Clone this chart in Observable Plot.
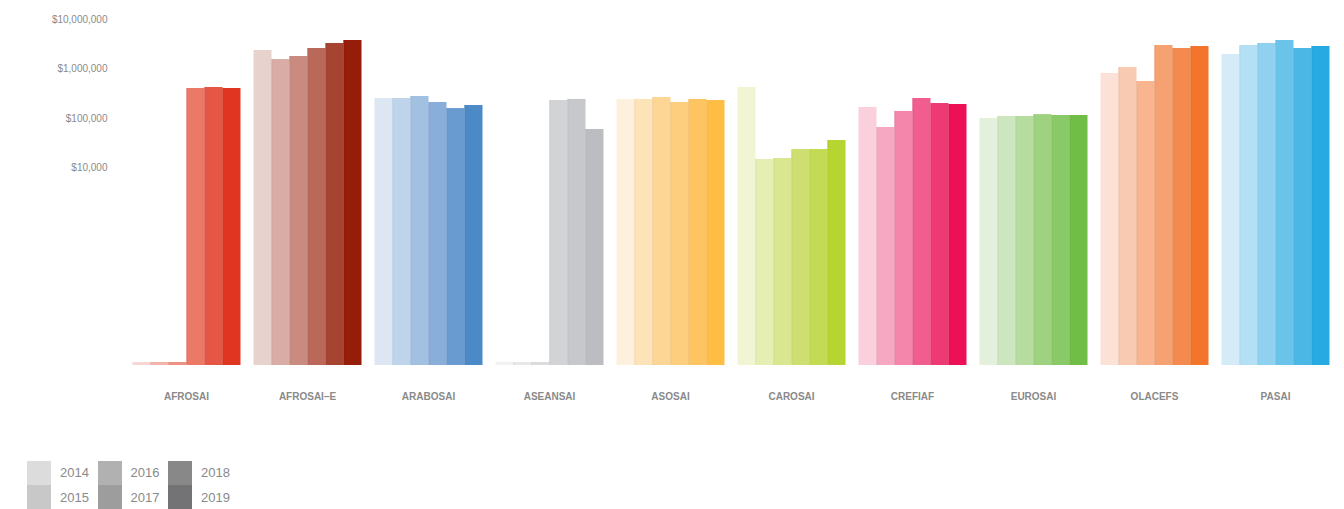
<!DOCTYPE html>
<html>
<head>
<meta charset="utf-8">
<script src="https://cdn.jsdelivr.net/npm/d3@7"></script>
<script src="https://cdn.jsdelivr.net/npm/@observablehq/plot@0.6"></script>
<style>
  html, body { margin: 0; padding: 0; background: #fff; }
  body { width: 1344px; height: 509px; position: relative; overflow: hidden; font-family: "Liberation Sans", Arial, sans-serif; }
  #chart { position: absolute; left: 0; top: 0; }
  #chart svg g[aria-label^="fx-axis"] text { font-weight: bold; }
  .legend { position: absolute; left: 27px; top: 460px; display: grid; grid-template-columns: repeat(3, 70.5px); grid-auto-flow: column; grid-template-rows: 25px 24px; }
  .legend .item { display: flex; align-items: center; font-size: 13px; color: #8a8a8a; }
  .legend .sw { width: 24px; height: 24px; margin-right: 9px; }
</style>
</head>
<body>
<div id="chart"></div>
<div class="legend" id="legend"></div>
<script>
// ---- data ----
const regions = ["AFROSAI", "AFROSAI\u2013E", "ARABOSAI", "ASEANSAI", "ASOSAI", "CAROSAI", "CREFIAF", "EUROSAI", "OLACEFS", "PASAI"];
const years = ["2014", "2015", "2016", "2017", "2018", "2019"];
const v2014 = [1.15, 2380000, 254000, 1.15, 243000, 424000, 167000, 100000, 815000, 1980000];
const v2015 = [1.15, 1560000, 254000, 1.15, 243000, 14800, 65700, 110000, 1080000, 3000000];
const v2016 = [1.15, 1800000, 279000, 1.15, 266000, 15500, 139000, 110000, 561000, 3300000];
const v2017 = [405000, 2610000, 211000, 231000, 211000, 23600, 254000, 120000, 3000000, 3790000];
const v2018 = [424000, 3300000, 159000, 243000, 243000, 23600, 201000, 115000, 2610000, 2610000];
const v2019 = [405000, 3790000, 183000, 59900, 231000, 35900, 192000, 115000, 2870000, 2870000];
const yTicks = [1e4, 1e5, 1e6, 1e7];

// ---- styles ----
const palette = {
  "AFROSAI":       ["#f6d6d0", "#f2b3aa", "#ef9084", "#ec7868", "#e55744", "#e03520"],
  "AFROSAI\u2013E":["#e8d2ce", "#d9aca5", "#c98b80", "#b9685a", "#a64431", "#961d0a"],
  "ARABOSAI":      ["#dce7f3", "#bed4ea", "#a2c0e2", "#89aed9", "#6a9bd0", "#4c89c7"],
  "ASEANSAI":      ["#f2f2f3", "#e8e8e9", "#dcdcde", "#d2d3d5", "#c7c8cb", "#bcbdc0"],
  "ASOSAI":        ["#fdf0dc", "#fde3b8", "#fdd695", "#fcce7e", "#fdc461", "#ffbd44"],
  "CAROSAI":       ["#f1f5d4", "#e5eeb3", "#d9e791", "#cede71", "#c3db54", "#b6d432"],
  "CREFIAF":       ["#f9d0dc", "#f6a8c3", "#f386aa", "#f05d8e", "#ee3a74", "#ec1157"],
  "EUROSAI":       ["#e3f1dc", "#cde6bf", "#b6dca0", "#9ed280", "#8ac967", "#71be46"],
  "OLACEFS":       ["#fce2d6", "#f9cab2", "#f8b590", "#f5a171", "#f58a4e", "#f3752c"],
  "PASAI":         ["#d5ecf8", "#b3e0f4", "#8fd1ef", "#6ac4ea", "#4bb7e5", "#27a9e1"]
};
const legendColors = ["#dcdcdd", "#c8c8c9", "#b1b1b2", "#9d9d9e", "#888889", "#737375"];

const series = [v2014, v2015, v2016, v2017, v2018, v2019];
const data = [];
regions.forEach((r, i) => {
  years.forEach((y, j) => {
    data.push({region: r, year: y, value: series[j][i], color: palette[r][j], edge: d3.color(palette[r][j]).darker(0.35).formatHex()});
  });
});

const fmt = d3.format("$,");

const chart = Plot.plot({
  width: 1344,
  height: 420,
  marginLeft: 125.5,
  marginRight: 8.5,
  marginTop: 19.2,
  marginBottom: 55,
  style: {fontFamily: "'Liberation Sans', Arial, sans-serif", fontSize: "10px", color: "#8a8a8a", background: "transparent"},
  fx: {domain: regions, paddingInner: 0.09, paddingOuter: 0.045, axis: "bottom", tickSize: 0, tickPadding: 27, label: null},
  x: {domain: years, padding: 0, axis: null},
  y: {type: "log", domain: [1, 1e7], ticks: yTicks, tickFormat: fmt, tickSize: 0, tickPadding: 24, label: null, clamp: true},
  color: {type: "identity"},
  marks: [
    Plot.rectY(data, {fx: "region", x: "year", y1: 1, y2: "value", fill: "color"}),
    Plot.rectY(data.filter(d => d.year !== "2014"), {fx: "region", x: "year", y1: 1, y2: "value", fill: "edge", insetRight: 17.3, fillOpacity: 0.6})
  ]
});
document.getElementById("chart").appendChild(chart);

// legend
const legend = document.getElementById("legend");
years.forEach((y, j) => {
  const item = document.createElement("div");
  item.className = "item";
  const sw = document.createElement("span");
  sw.className = "sw";
  sw.style.background = legendColors[j];
  const t = document.createElement("span");
  t.textContent = y;
  item.appendChild(sw); item.appendChild(t);
  legend.appendChild(item);
});
</script>
</body>
</html>
